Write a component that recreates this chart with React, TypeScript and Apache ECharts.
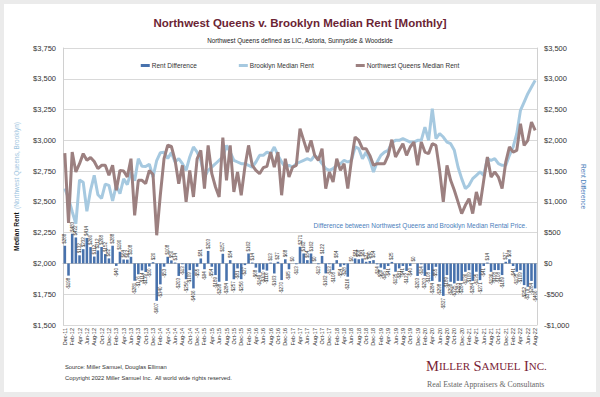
import React, { useEffect, useRef } from "react";
import * as echarts from "echarts";

const months = [
  "Dec-11",
  "Jan-12", "Feb-12", "Mar-12", "Apr-12", "May-12", "Jun-12", "Jul-12", "Aug-12", "Sep-12", "Oct-12", "Nov-12", "Dec-12",
  "Jan-13", "Feb-13", "Mar-13", "Apr-13", "May-13", "Jun-13", "Jul-13", "Aug-13", "Sep-13", "Oct-13", "Nov-13", "Dec-13",
  "Jan-14", "Feb-14", "Mar-14", "Apr-14", "May-14", "Jun-14", "Jul-14", "Aug-14", "Sep-14", "Oct-14", "Nov-14", "Dec-14",
  "Jan-15", "Feb-15", "Mar-15", "Apr-15", "May-15", "Jun-15", "Jul-15", "Aug-15", "Sep-15", "Oct-15", "Nov-15", "Dec-15",
  "Jan-16", "Feb-16", "Mar-16", "Apr-16", "May-16", "Jun-16", "Jul-16", "Aug-16", "Sep-16", "Oct-16", "Nov-16", "Dec-16",
  "Jan-17", "Feb-17", "Mar-17", "Apr-17", "May-17", "Jun-17", "Jul-17", "Aug-17", "Sep-17", "Oct-17", "Nov-17", "Dec-17",
  "Jan-18", "Feb-18", "Mar-18", "Apr-18", "May-18", "Jun-18", "Jul-18", "Aug-18", "Sep-18", "Oct-18", "Nov-18", "Dec-18",
  "Jan-19", "Feb-19", "Mar-19", "Apr-19", "May-19", "Jun-19", "Jul-19", "Aug-19", "Sep-19", "Oct-19", "Nov-19", "Dec-19",
  "Jan-20", "Feb-20", "Mar-20", "Apr-20", "May-20", "Jun-20", "Jul-20", "Aug-20", "Sep-20", "Oct-20", "Nov-20", "Dec-20",
  "Jan-21", "Feb-21", "Mar-21", "Apr-21", "May-21", "Jun-21", "Jul-21", "Aug-21", "Sep-21", "Oct-21", "Nov-21", "Dec-21",
  "Jan-22", "Feb-22", "Mar-22", "Apr-22", "May-22", "Jun-22", "Jul-22", "Aug-22",
];

const nwQueens = [
  2896,
  2330, 2905, 2743, 2810, 2892, 2838, 2860, 2828, 2770, 2797, 2797, 2716,
  2797, 2594, 2756, 2751, 2702, 2851, 2391, 2675, 2675, 2648, 2756, 2722,
  2229, 2560, 2851, 2960, 2950, 2838, 2648, 2797, 2500, 2756, 2540, 2850,
  2919, 2608, 2959, 2729, 2621, 2540, 3022, 2675, 2959, 2581, 2743, 2554,
  2783, 2959, 2797, 2756, 2729, 2778, 2789, 2905, 2783, 2905, 2554, 2851,
  2702, 2783, 2797, 3095, 3000, 2905, 3000, 2878, 2838, 2932, 2608, 2743,
  2662, 2851, 2756, 2810, 2608, 2838, 3027, 3000, 2932, 2932, 2878, 2797,
  2810, 2810, 2810, 2878, 3005, 2865, 2919, 2973, 2878, 2946, 2986, 2797,
  2986, 2905, 2892, 2973, 2959, 2756, 2500, 2797, 2675, 2594, 2500, 2405,
  2472, 2526, 2405, 2581, 2472, 2675, 2865, 2702, 2743, 2702, 2608, 2824,
  2946, 2905, 2919, 3135, 2959, 3000, 3149, 3081,
];

const brooklyn = [
  2608,
  2528, 2422, 2321, 2678, 2660, 2424, 2594, 2716, 2558, 2529, 2645, 2634,
  2509, 2634, 2566, 2687, 2640, 2743, 2672, 2851, 2789, 2787, 2806, 2702,
  2836, 2900, 2904, 2852, 2900, 2824, 2851, 2810, 2756, 2865, 2946, 2905,
  2838, 2702, 2756, 2783, 2810, 2838, 2865, 2959, 2905, 2838, 2824, 2810,
  2810, 2797, 2783, 2824, 2878, 2878, 2905, 2892, 2946, 2878, 2824, 2783,
  2797, 2783, 2810, 2824, 2838, 2851, 2838, 2878, 2851, 2810, 2770, 2756,
  2770, 2797, 2810, 2838, 2824, 2838, 2946, 2932, 2851, 2905, 2838, 2743,
  2824, 2878, 2905, 2919, 2980, 3000, 3000, 3014, 3000, 2986, 2986, 3000,
  3000, 3108, 3000, 3257, 3014, 3054, 3027, 2986, 2973, 2919, 2783, 2689,
  2608, 2635, 2689, 2716, 2743, 2716, 2851, 2838, 2851, 2810, 2797, 2797,
  2878, 2946, 3054, 3244, 3311, 3379, 3433, 3487,
];

const rentDiff = [
  288,
  -198, 483, 422, 132, 232, 414, 266, 112, 212, 268, 152, 82,
  288, -40, 190, 64, 62, 108, -281, -176, -114, -139, -50, 20,
  -607, -340, -53, 108, 50, 14, -203, -13, -256, -109, -406, -55,
  81, -94, 203, -54, -189, -298, 157, -284, 54, -257, -81, -256,
  -27, 162, 14, -68, -149, -100, -116, 13, -163, 27, -270, 68,
  -95, 0, -13, 271, 162, 54, 162, 0, -13, 122, -162, -13,
  -108, 54, -54, -28, -216, 0, 81, 68, 81, 27, 40, 54,
  -14, -68, -95, -41, 25, -135, -81, -41, -122, -40, 0, -203,
  -14, -203, -108, -284, -55, -298, -527, -189, -298, -325, -283, -284,
  -136, -109, -284, -135, -271, -41, 14, -136, -108, -108, -189, 27,
  68, -41, -135, -109, -352, -379, -284, -406,
];

const FONT = "'Liberation Sans', Arial, Helvetica, sans-serif";
const SERIF = "'Liberation Serif', 'DejaVu Serif', serif";

const money = (v: number) =>
  (v < 0 ? "-$" : "$") + Math.abs(v).toLocaleString("en-US");

export default function App() {
  const ref = useRef<HTMLDivElement>(null);

  useEffect(() => {
    if (!ref.current) return;
    const chart = echarts.init(ref.current, undefined, { renderer: "svg" });
    chart.setOption({
      animation: false,
      backgroundColor: "transparent",
      textStyle: { fontFamily: FONT },
      title: {
        text: "Northwest Queens v. Brooklyn Median Rent [Monthly]",
        subtext: "Northwest Queens defined as LIC, Astoria, Sunnyside & Woodside",
        left: "center",
        top: 12,
        itemGap: 8,
        textStyle: { fontFamily: FONT, fontSize: 11.5, fontWeight: "bold", color: "#6b2434" },
        subtextStyle: { fontFamily: FONT, fontSize: 6.3, color: "#222" },
      },
      legend: {
        top: 57,
        left: "center",
        itemGap: 42,
        itemWidth: 9,
        itemHeight: 3,
        textStyle: { fontFamily: FONT, fontSize: 6.5, color: "#333", padding: [0, 0, 0, -3] },
        data: [
          { name: "Rent Difference", icon: "rect" },
          { name: "Brooklyn Median Rent", icon: "rect" },
          { name: "Northwest Queens Median Rent", icon: "rect" },
        ],
      },
      grid: { left: 63, right: 63, top: 48, bottom: 72, containLabel: false },
      xAxis: {
        type: "category",
        data: months,
        boundaryGap: true,
        axisTick: { show: false },
        axisLine: { lineStyle: { color: "#bfbfbf" } },
        axisLabel: {
          rotate: 90,
          interval: 1,
          fontSize: 5.5,
          color: "#333",
          margin: 3,
          fontFamily: FONT,
        },
      },
      yAxis: [
        {
          type: "value",
          min: 1500,
          max: 3750,
          interval: 250,
          name: "{a|Median Rent} {b|(Northwest Queens, Brooklyn)}",
          nameLocation: "middle",
          nameRotate: 90,
          nameGap: 38,
          nameTextStyle: {
            rich: {
              a: { fontFamily: FONT, fontSize: 6.5, fontWeight: "bold", color: "#111" },
              b: { fontFamily: FONT, fontSize: 6.5, color: "#9cc4e0" },
            },
          },
          axisLine: { show: true, lineStyle: { color: "#d0d0d0" } },
          axisTick: { show: false },
          splitLine: { lineStyle: { color: "#d9d9d9" } },
          axisLabel: { formatter: money, fontSize: 7.5, color: "#333", margin: 7, fontFamily: FONT },
        },
        {
          type: "value",
          min: -1000,
          max: 3500,
          interval: 500,
          name: "Rent Difference",
          nameLocation: "middle",
          nameRotate: -90,
          nameGap: 32,
          nameTextStyle: { fontFamily: FONT, fontSize: 6.5, color: "#4a7ebb" },
          axisLine: { show: true, lineStyle: { color: "#d0d0d0" } },
          axisTick: { show: false },
          splitLine: { show: false },
          axisLabel: { formatter: money, fontSize: 7.5, color: "#333", margin: 7, fontFamily: FONT },
        },
      ],
      series: [
        {
          name: "Rent Difference",
          type: "bar",
          yAxisIndex: 1,
          barWidth: "70%",
          itemStyle: { color: "#4872ad" },
          label: {
            show: true,
            rotate: 90,
            fontSize: 4.5,
            color: "#333",
            distance: 2,
            verticalAlign: "middle",
            fontFamily: FONT,
            formatter: (p: any) => money(p.value),
          },
          data: rentDiff.map((v) => ({
            value: v,
            label: { position: v >= 0 ? "top" : "bottom", align: v >= 0 ? "left" : "right" },
          })),
          z: 2,
        },
        {
          name: "Brooklyn Median Rent",
          type: "line",
          yAxisIndex: 0,
          data: brooklyn,
          showSymbol: false,
          symbol: "none",
          itemStyle: { color: "#a6c9e0" },
          lineStyle: { width: 3, color: "#a6c9e0" },
          z: 3,
        },
        {
          name: "Northwest Queens Median Rent",
          type: "line",
          yAxisIndex: 0,
          data: nwQueens,
          showSymbol: false,
          symbol: "none",
          itemStyle: { color: "#9c8080" },
          lineStyle: { width: 3, color: "#9c8080" },
          z: 4,
        },
      ],
      graphic: [
        {
          type: "text",
          x: 527,
          y: 225,
          style: {
            text: "Difference between Northwest Queens and Brooklyn Median Rental Price.",
            fill: "#4a7ebb",
            fontSize: 6.5,
            fontFamily: FONT,
            textAlign: "right",
            textVerticalAlign: "middle",
          },
        },
        {
          type: "text",
          x: 65,
          y: 367,
          style: {
            text: "Source: Miller Samuel, Douglas Elliman",
            fill: "#333",
            fontSize: 5.8,
            fontFamily: FONT,
            textVerticalAlign: "middle",
          },
        },
        {
          type: "text",
          x: 65,
          y: 378,
          style: {
            text: "Copyright 2022 Miller Samuel Inc.  All world wide rights reserved.",
            fill: "#333",
            fontSize: 5.8,
            fontFamily: FONT,
            textVerticalAlign: "middle",
          },
        },
        {
          type: "text",
          x: 426,
          y: 366,
          style: {
            text: "{b|M}{s|ILLER} {b|S}{s|AMUEL} {b|I}{s|NC.}",
            rich: {
              b: { fontSize: 14.5, fontFamily: SERIF, fill: "#7a2336" },
              s: { fontSize: 11, fontFamily: SERIF, fill: "#7a2336" },
            },
            textVerticalAlign: "middle",
          },
        },
        {
          type: "text",
          x: 427,
          y: 384,
          style: {
            text: "Real Estate Appraisers & Consultants",
            fill: "#666",
            fontSize: 7.8,
            fontFamily: SERIF,
            textVerticalAlign: "middle",
          },
        },
      ],
    });
    return () => chart.dispose();
  }, []);

  return (
    <div style={{ position: "fixed", left: 0, top: 0, width: 600, height: 397, background: "#ebebeb" }}>
      <div style={{ position: "absolute", left: 4, top: 4, width: 592, height: 388, background: "#fff" }} />
      <div ref={ref} style={{ position: "absolute", left: 0, top: 0, width: 600, height: 397 }} />
    </div>
  );
}
